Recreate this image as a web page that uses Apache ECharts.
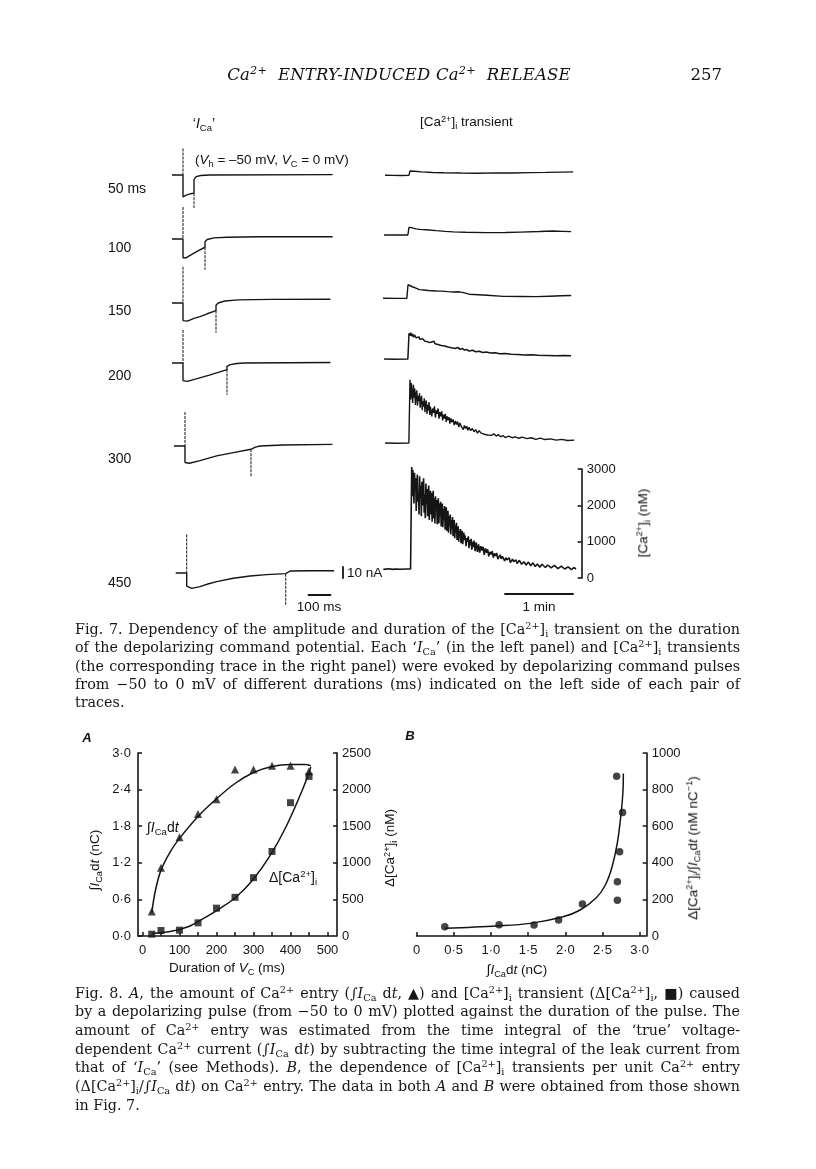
<!DOCTYPE html>
<html><head><meta charset="utf-8">
<script src="https://cdn.jsdelivr.net/npm/echarts@6.0.0/dist/echarts.min.js"></script>
<style>
body{margin:0;background:#fff;width:816px;height:1169px;overflow:hidden;position:relative}
#c{position:absolute;left:0;top:0;width:816px;height:1169px}
.t{position:absolute;white-space:nowrap;color:#111;font-family:'Liberation Sans',Arial,sans-serif;font-size:13.5px;line-height:1;transform:translateY(-50%)}
.c{transform:translate(-50%,-50%)}
.r{transform:translate(-100%,-50%)}
.rot{transform:translate(-50%,-50%) rotate(-90deg)}
sup{font-size:0.68em;vertical-align:0.5em;line-height:0}
sub{font-size:0.68em;vertical-align:-0.3em;line-height:0}
.serif{font-family:'DejaVu Serif','Liberation Serif',serif}
.cap{position:absolute;left:75px;width:665px;font-family:'DejaVu Serif',serif;font-size:14.3px;color:#161616}
.cap div{white-space:nowrap}
.cap span.ln{display:inline-block;white-space:nowrap}
</style></head>
<body>
<div id="c"></div>

<!-- page header -->
<div class="t c serif" style="left:399px;top:75px;font-size:16.5px;font-style:italic;letter-spacing:0.2px">Ca<sup>2+</sup>&nbsp; ENTRY-INDUCED Ca<sup>2+</sup>&nbsp; RELEASE</div>
<div class="t r serif" style="left:722px;top:75px;font-size:16.5px">257</div>

<!-- Fig 7 texts -->
<div class="t c" style="left:204px;top:123px;font-size:14px">‘<i>I</i><sub>Ca</sub>’</div>
<div class="t" style="left:420px;top:122px">[Ca<sup>2+</sup>]<sub>i</sub> transient</div>
<div class="t" style="left:195px;top:160px">(<i>V</i><sub>h</sub> = –50 mV, <i>V</i><sub>C</sub> = 0 mV)</div>
<div class="t" style="left:108px;top:188px;font-size:14px">50 ms</div>
<div class="t" style="left:108px;top:247px;font-size:14px">100</div>
<div class="t" style="left:108px;top:310px;font-size:14px">150</div>
<div class="t" style="left:108px;top:375px;font-size:14px">200</div>
<div class="t" style="left:108px;top:458px;font-size:14px">300</div>
<div class="t" style="left:108px;top:582px;font-size:14px">450</div>
<div class="t" style="left:347px;top:573px">10 nA</div>
<div class="t c" style="left:319px;top:607px">100 ms</div>
<div class="t c" style="left:539px;top:607px">1 min</div>
<div class="t rot" style="left:643px;top:523px">[Ca<sup>2+</sup>]<sub>i</sub> (nM)</div>

<div class="cap" style="top:619.8px;line-height:18.4px">
<div><span class="ln">Fig. 7. Dependency of the amplitude and duration of the [Ca<sup>2+</sup>]<sub>i</sub> transient on the duration</span></div>
<div><span class="ln">of the depolarizing command potential. Each ‘<i>I</i><sub>Ca</sub>’ (in the left panel) and [Ca<sup>2+</sup>]<sub>i</sub> transients</span></div>
<div><span class="ln">(the corresponding trace in the right panel) were evoked by depolarizing command pulses</span></div>
<div><span class="ln">from −50 to 0 mV of different durations (ms) indicated on the left side of each pair of</span></div>
<div class="last"><span class="ln">traces.</span></div>
</div>

<!-- Fig 8 texts -->
<div class="t c" style="left:87px;top:737px;font-style:italic;font-weight:bold;font-size:13px">A</div>
<div class="t c" style="left:410px;top:735px;font-style:italic;font-weight:bold;font-size:13px">B</div>
<div class="t rot" style="left:95px;top:860px">∫<i>I</i><sub>Ca</sub>d<i>t</i> (nC)</div>
<div class="t" style="left:147px;top:827px;font-size:14px">∫<i>I</i><sub>Ca</sub>d<i>t</i></div>
<div class="t" style="left:269px;top:877px;font-size:14px">Δ[Ca<sup>2+</sup>]<sub>i</sub></div>
<div class="t rot" style="left:390px;top:848px">Δ[Ca<sup>2+</sup>]<sub>i</sub> (nM)</div>
<div class="t c" style="left:227px;top:968px">Duration of <i>V</i><sub>C</sub> (ms)</div>
<div class="t c" style="left:517px;top:970px">∫<i>I</i><sub>Ca</sub>d<i>t</i> (nC)</div>
<div class="t rot" style="left:693px;top:848px">Δ[Ca<sup>2+</sup>]<sub>i</sub>/∫<i>I</i><sub>Ca</sub>d<i>t</i> (nM nC<sup>−1</sup>)</div>

<div class="cap" style="top:983.7px;line-height:18.67px">
<div><span class="ln">Fig. 8. <i>A</i>, the amount of Ca<sup>2+</sup> entry (∫<i>I</i><sub>Ca</sub> d<i>t</i>, ▲) and [Ca<sup>2+</sup>]<sub>i</sub> transient (Δ[Ca<sup>2+</sup>]<sub>i</sub>, ■) caused</span></div>
<div><span class="ln">by a depolarizing pulse (from −50 to 0 mV) plotted against the duration of the pulse. The</span></div>
<div><span class="ln">amount of Ca<sup>2+</sup> entry was estimated from the time integral of the ‘true’ voltage-</span></div>
<div><span class="ln">dependent Ca<sup>2+</sup> current (∫<i>I</i><sub>Ca</sub> d<i>t</i>) by subtracting the time integral of the leak current from</span></div>
<div><span class="ln">that of ‘<i>I</i><sub>Ca</sub>’ (see Methods). <i>B</i>, the dependence of [Ca<sup>2+</sup>]<sub>i</sub> transients per unit Ca<sup>2+</sup> entry</span></div>
<div><span class="ln">(Δ[Ca<sup>2+</sup>]<sub>i</sub>/∫<i>I</i><sub>Ca</sub> d<i>t</i>) on Ca<sup>2+</sup> entry. The data in both <i>A</i> and <i>B</i> were obtained from those shown</span></div>
<div class="last"><span class="ln">in Fig. 7.</span></div>
</div>

<script>
// ================= DATA =================
// Fig. 7 left: 'ICa' traces, [time (ms from pulse onset), current (nA, relative to holding)]
const cur50  = [[-50,0],[0,0],[0,-20],[6,-20],[12,-18.5],[20,-18],[35,-17],[50,-16.5],[50,-4],[60,-1.5],[80,-0.5],[120,0],[680,0.3]];
const cur100 = [[-50,0],[0,0],[0,-17],[5,-18],[15,-17],[40,-14],[70,-10.5],[100,-7.5],[100,-2.5],[110,-0.5],[140,1],[200,1.6],[350,2],[680,2]];
const cur150 = [[-50,0],[0,0],[0,-16],[6,-17],[20,-16.5],[50,-14],[77,-12.4],[110,-9.8],[150,-7],[150,-2],[160,0],[190,1.8],[250,2.8],[400,3.3],[670,3.4]];
const cur200 = [[-50,0],[0,0],[0,-16],[6,-17],[20,-16.7],[60,-14.5],[120,-11],[160,-8.5],[200,-6],[200,-3],[215,-1.5],[244,-0.5],[280,0],[670,0.5]];
const cur300 = [[-50,0],[0,0],[0,-15],[6,-16],[20,-15.7],[68,-13.3],[144,-9],[220,-6],[300,-3],[300,-2],[320,-1],[341,0],[446,0.9],[670,1.5]];
const cur450 = [[-50,0],[0,0],[0,-12],[8,-13.5],[23,-14],[60,-12.4],[100,-9.8],[136,-7.8],[212,-4.8],[288,-2.7],[363,-1.5],[450,-0.6],[450,1],[470,1.8],[560,2],[670,2.1]];
// capacitive artefacts at pulse on / off: [ms, nA]
const spike50  = [[0,24],[0,0],[50,'-'],[50,-16.5],[50,-30]];
const spike100 = [[0,29],[0,0],[100,'-'],[100,-7.5],[100,-28]];
const spike150 = [[0,33],[0,0],[150,'-'],[150,-7],[150,-27]];
const spike200 = [[0,30],[0,0],[200,'-'],[200,-6],[200,-29]];
const spike300 = [[0,31],[0,0],[300,'-'],[300,-3],[300,-28]];
const spike450 = [[0,35],[0,0],[450,'-'],[450,-0.6],[450,-29]];

// Fig. 7 right: [Ca2+]i transients, [time (s from pulse), nM]
const ca50  = [[-22,245],[-15,240],[-8,238],[-1,240],[0,360],[1.5,370],[4,355],[10,335],[20,320],[30,312],[45,305],[60,300],[75,308],[90,305],[105,315],[120,322],[135,330],[144,335]];
const ca100 = [[-22,250],[-10,248],[-1,250],[0,460],[2,455],[6,420],[9.5,406],[15,395],[24,370],[32,350],[39,335],[50,325],[68,315],[85,320],[98,330],[115,345],[127,360],[136,350],[143,342]];
const ca150 = [[-22,245],[-10,240],[-1,245],[0,615],[1.5,600],[4.4,553],[7,520],[10,480],[14,470],[18,455],[25,443],[30,438],[35,425],[40,415],[45,420],[48,405],[54,355],[62,340],[70,325],[84,296],[100,292],[113,287],[125,300],[135,310],[144,318]];
const ca200 = [[-22,250],[-12,245],[-1,250],[0,960],[0.8,890],[1.6,975],[2.4,880],[3.2,940],[4,850],[4.8,910],[5.6,860],[6.4,830],[7.2,880],[8,800],[8.8,860],[9.6,790],[10.4,820],[11.2,760],[12,810],[13,780],[14,740],[15,790],[16,730],[17,770],[18,700],[19,750],[20,720],[21,690],[22,740],[23,670],[24,710],[25.5,650],[27,690],[28.5,620],[30,660],[31.5,610],[33,640],[34.5,580],[36,620],[37.5,560],[39,590],[41,540],[43,570],[45,515],[47,540],[49,495],[51,510],[53,470],[56,490],[59,450],[62,465],[65,430],[68,440],[72,415],[76,420],[80,395],[85,400],[90,380],[96,375],[102,360],[108,365],[114,350],[122,348],[130,340],[137,345],[143,340]];
const ca300 = [[-22,250],[-12,245],[-1,250],[0,1990],[0.6,1450],[1.2,1900],[1.8,1600],[2.4,1350],[3,1850],[3.6,1500],[4.2,1750],[4.8,1300],[5.4,1600],[6,1700],[6.6,1280],[7.2,1550],[7.8,1400],[8.4,1620],[9,1220],[9.6,1450],[10.2,1550],[10.8,1150],[11.4,1400],[12,1250],[12.6,1480],[13.2,1100],[13.8,1350],[14.4,1420],[15,1050],[15.6,1300],[16.2,1150],[16.8,1380],[17.4,1020],[18,1250],[18.6,1300],[19.2,980],[20,1200],[20.8,1080],[21.6,1260],[22.4,950],[23.2,1150],[24,1050],[24.8,1200],[25.6,920],[26.4,1100],[27.2,980],[28,1120],[28.8,870],[29.6,1030],[30.4,920],[31.2,1050],[32,830],[32.8,980],[33.6,880],[34.4,960],[35.2,780],[36,930],[37,820],[38,900],[39,740],[40,860],[41,760],[42,840],[43,690],[44,800],[45,720],[46,760],[47,620],[48,730],[49,650],[50,710],[51,600],[52,680],[53.5,590],[55,650],[56.5,560],[58,620],[59.5,520],[61,590],[62.5,530],[64,570],[65.5,490],[67,545],[68.5,470],[70,520],[72,460],[74,505],[76,440],[78,480],[80,420],[82,455],[84,400],[87,440],[90,395],[93,420],[96,380],[99,410],[103,370],[107,395],[111,350],[115,385],[119,345],[124,365],[129,330],[134,350],[139,320],[145,330]];
const ca450 = [[-25,240],[-20,255],[-17,240],[-14,250],[-10,245],[-5,250],[-1,248],[0,3060],[0.5,2250],[1,2980],[1.5,2600],[2,2050],[2.5,2900],[3,2400],[3.5,2750],[4,1850],[4.5,2500],[5,2850],[5.5,2100],[6,2350],[6.5,1750],[7,2800],[7.5,2200],[8,2550],[8.5,1700],[9,2650],[9.5,2000],[10,2450],[10.5,2750],[11,1800],[11.5,2300],[12,1650],[12.5,2600],[13,2050],[13.5,2450],[14,1700],[14.5,2200],[15,2550],[15.5,1600],[16,2100],[16.5,2400],[17,1750],[17.5,2350],[18,1550],[18.5,2050],[19,2400],[19.5,1650],[20,2200],[20.5,1500],[21,2250],[21.5,1900],[22,2150],[22.5,1480],[23,1950],[23.5,2200],[24,1500],[24.5,2050],[25,1700],[25.5,2100],[26,1420],[26.5,1850],[27,2050],[27.5,1400],[28,1900],[28.5,1600],[29,1980],[29.5,1330],[30,1750],[30.5,1950],[31,1300],[31.5,1650],[32,1850],[32.5,1250],[33,1700],[33.5,1450],[34,1750],[34.5,1200],[35,1600],[35.5,1350],[36,1680],[36.5,1150],[37,1500],[37.5,1600],[38,1100],[38.5,1450],[39,1250],[39.5,1520],[40,1050],[40.5,1350],[41,1420],[41.5,1000],[42,1300],[42.5,1150],[43,1350],[43.5,960],[44,1200],[44.5,1300],[45,930],[46,1250],[46.5,1050],[47,1180],[48,880],[48.5,1100],[49,1000],[50,1150],[50.5,820],[51,1050],[52,900],[52.5,1080],[53,780],[54,1000],[54.5,850],[55,1030],[56,740],[56.5,920],[57,980],[58,720],[59,930],[60,700],[61,880],[62,760],[63,860],[64,640],[65,820],[66,700],[67,790],[68,600],[69,720],[70,650],[71,740],[72,560],[73,680],[74,610],[75,690],[76,520],[78,640],[79,530],[80,600],[82,470],[83,560],[84,500],[86,560],[87,430],[89,520],[90,450],[92,500],[93,400],[95,490],[97,380],[99,450],[101,360],[103,440],[105,340],[107,420],[109,320],[111,390],[113,300],[115,380],[118,290],[120,360],[123,280],[126,350],[129,260],[132,330],[135,250],[138,310],[141,230],[143,290],[145,250]];

// Fig. 8A
const durA   = [25,50,100,150,200,250,300,350,400,450];          // ms
const entryA = [0.40,1.12,1.62,2.00,2.24,2.73,2.73,2.79,2.79,2.70]; // nC
const dCaA   = [25,75,80,180,380,528,797,1155,1821,2180];      // nM
const entryFit = [[25,0.38],[35,0.75],[50,1.08],[75,1.38],[100,1.6],[150,1.96],[200,2.25],[250,2.5],[300,2.68],[350,2.78],[400,2.81],[440,2.81],[455,2.79]];
const dCaFit   = [[25,35],[75,60],[125,130],[165,240],[210,378],[254,537],[298,765],[343,1083],[388,1493],[432,1994],[455,2310]];
const ticksA = [0,50,100,150,200,250,300,350,400,450,500];
const labelsA = [0,100,200,300,400,500];
// Fig. 8B
const entryB = [0.38,1.11,1.58,1.91,2.23,2.70,2.70,2.73,2.77,2.69]; // nC
const ratioB = [51,62,60,87,175,195,297,460,675,873];              // nM nC-1
const ratioFit = [[0.38,42],[1.08,55],[1.53,69],[1.97,105],[2.2,142],[2.42,210],[2.54,280],[2.63,380],[2.7,510],[2.75,670],[2.775,790],[2.78,888]];
const ticksB = [0,0.5,1.0,1.5,2.0,2.5,3.0];

// ================= captions: fit each printed line to the column =================
document.querySelectorAll('.cap div').forEach(div=>{
  const sp = div.querySelector('span.ln');
  if (div.classList.contains('last')) return;
  const w = sp.getBoundingClientRect().width;
  const n = (sp.textContent.match(/ /g)||[]).length;
  if (n>0) sp.style.wordSpacing = ((665 - w)/n) + 'px';
});

// ================= LAYOUT / CHART =================
const INK = '#151515';
const FONT = 'Liberation Sans';
const grid=[], xAxis=[], yAxis=[], series=[];
function simplePanel(g, xa, ya){
  const gi = grid.length; grid.push(g);
  xAxis.push(Object.assign({gridIndex:gi,type:'value',show:false,splitLine:{show:false}}, xa));
  const yi = yAxis.length;
  yAxis.push(Object.assign({gridIndex:gi,type:'value',show:false,splitLine:{show:false}}, ya));
  return {xi: xAxis.length-1, yi};
}
function addLine(data, ax, width, extra){
  series.push(Object.assign({type:'line', data, xAxisIndex:ax.xi, yAxisIndex:ax.yi, symbol:'none', showSymbol:false,
    clip:false, silent:true, animation:false, lineStyle:{color:INK, width}}, extra||{}));
}
const plain = v => String(v);

// left panel, 'ICa' rows
const PX_MS = 0.22;
const curRows = [
  {d:cur50,  s:spike50,  base:175, onset:183},
  {d:cur100, s:spike100, base:239, onset:183},
  {d:cur150, s:spike150, base:303, onset:183},
  {d:cur200, s:spike200, base:363, onset:183},
  {d:cur300, s:spike300, base:446, onset:185},
  {d:cur450, s:spike450, base:573, onset:186.7}
];
curRows.forEach(r=>{
  const ax = simplePanel({left:r.onset-50*PX_MS, top:r.base-44, width:750*PX_MS, height:88},
    {min:-50,max:700},{min:-40,max:40});
  addLine(r.d, ax, 1.4);
  addLine(r.s, ax, 1.0, {connectNulls:false, lineStyle:{color:'#2a2a2a',width:1.1,type:[3,1]}});
});

// right panel, [Ca2+]i rows
const PX_S = 68/60, CA_H = 109;
const caRows = [
  {d:ca50,  base:175, step:410, w:1.4},
  {d:ca100, base:235, step:409, w:1.4},
  {d:ca150, base:298, step:408, w:1.4},
  {d:ca200, base:359, step:409, w:1.5},
  {d:ca300, base:443, step:410, w:1.4},
  {d:ca450, base:569, step:411.7, w:1.6}
];
caRows.forEach((r,i)=>{
  const last = i===caRows.length-1;
  const ya = last ? {show:true, min:0, max:3000, interval:1000, position:'right',
      axisLine:{show:true,onZero:false,lineStyle:{color:INK,width:1.6}},
      axisTick:{show:true,inside:true,length:4,lineStyle:{color:INK,width:1.6}},
      axisLabel:{show:true,color:INK,fontFamily:FONT,fontSize:13,margin:5,formatter:plain}}
    : {min:0,max:3000};
  const ax = simplePanel({left:r.step-25*PX_S, top:r.base+250*CA_H/3000-CA_H, width:175*PX_S, height:CA_H},
    {min:-25,max:150}, ya);
  addLine(r.d, ax, r.w);
});

// scale bars
simplePanel({left:343, top:567, width:1, height:11},{min:0,max:1},
  {show:true,min:0,max:10,position:'left',axisLine:{show:true,onZero:false,lineStyle:{color:INK,width:1.8}},axisTick:{show:false},axisLabel:{show:false}});
simplePanel({left:308.5, top:594, width:100*PX_MS, height:1},
  {show:true,min:0,max:100,axisLine:{show:true,onZero:false,lineStyle:{color:INK,width:1.8}},axisTick:{show:false},axisLabel:{show:false}},{min:0,max:1});
simplePanel({left:505, top:593, width:60*PX_S, height:1},
  {show:true,min:0,max:60,axisLine:{show:true,onZero:false,lineStyle:{color:INK,width:1.8}},axisTick:{show:false},axisLabel:{show:false}},{min:0,max:1});

// Fig 8A
const axLine = {show:true,onZero:false,lineStyle:{color:INK,width:1.6}};
const tickSt = {color:INK,width:1.5};
const lab = {color:INK,fontFamily:FONT,fontSize:13};
const dot = v => v.toFixed(1).replace('.','\u00B7');
const KA = 0.37;
const gA = grid.length;
grid.push({left:142.5-12*KA, top:753, width:527*KA, height:183});
const xA = xAxis.length;
xAxis.push({gridIndex:gA,type:'value',min:-12,max:515,axisLine:axLine,
  axisTick:{show:true,inside:true,length:4,customValues:ticksA,lineStyle:tickSt},
  axisLabel:Object.assign({customValues:labelsA,margin:8,formatter:plain},lab),splitLine:{show:false}});
const yAL = yAxis.length;
yAxis.push({gridIndex:gA,type:'value',min:0,max:3.0,interval:0.6,position:'left',axisLine:axLine,
  axisTick:{show:true,inside:true,length:4,lineStyle:tickSt},
  axisLabel:Object.assign({formatter:dot,margin:7},lab),splitLine:{show:false}});
const yAR = yAxis.length;
yAxis.push({gridIndex:gA,type:'value',min:0,max:2500,interval:500,position:'right',offset:4,axisLine:axLine,
  axisTick:{show:true,inside:true,length:4,lineStyle:tickSt},
  axisLabel:Object.assign({margin:5,formatter:plain},lab),splitLine:{show:false}});
addLine(entryFit, {xi:xA, yi:yAL}, 1.5, {smooth:0.35});
addLine(dCaFit, {xi:xA, yi:yAR}, 1.5, {smooth:0.35});
series.push({type:'scatter', xAxisIndex:xA, yAxisIndex:yAL, symbol:'triangle', symbolSize:8,
  itemStyle:{color:INK}, data:durA.map((d,i)=>[d,entryA[i]]), animation:false, silent:true, z:5});
series.push({type:'scatter', xAxisIndex:xA, yAxisIndex:yAR, symbol:'rect', symbolSize:7,
  itemStyle:{color:INK}, data:durA.map((d,i)=>[d,dCaA[i]]), animation:false, silent:true, z:4});

// Fig 8B
const KB = 74.4;
const gB = grid.length;
grid.push({left:416.5, top:753, width:3.04*KB, height:183});
const xB = xAxis.length;
xAxis.push({gridIndex:gB,type:'value',min:0,max:3.04,axisLine:axLine,
  axisTick:{show:true,inside:true,length:4,customValues:ticksB,lineStyle:tickSt},
  axisLabel:Object.assign({customValues:ticksB,margin:8,formatter:v=>v===0?'0':dot(v)},lab),splitLine:{show:false}});
const yB = yAxis.length;
yAxis.push({gridIndex:gB,type:'value',min:0,max:1000,interval:200,position:'right',offset:4,axisLine:axLine,
  axisTick:{show:true,inside:true,length:4,lineStyle:tickSt},
  axisLabel:Object.assign({margin:5,formatter:plain},lab),splitLine:{show:false}});
addLine(ratioFit, {xi:xB, yi:yB}, 1.5, {smooth:0.35});
series.push({type:'scatter', xAxisIndex:xB, yAxisIndex:yB, symbol:'circle', symbolSize:7.5,
  itemStyle:{color:INK}, data:entryB.map((e,i)=>[e,ratioB[i]]), animation:false, silent:true, z:5});

const chart = echarts.init(document.getElementById('c'), null, {renderer:'canvas'});
chart.setOption({animation:false, backgroundColor:'#fff', grid, xAxis, yAxis, series});
</script>
</body></html>
